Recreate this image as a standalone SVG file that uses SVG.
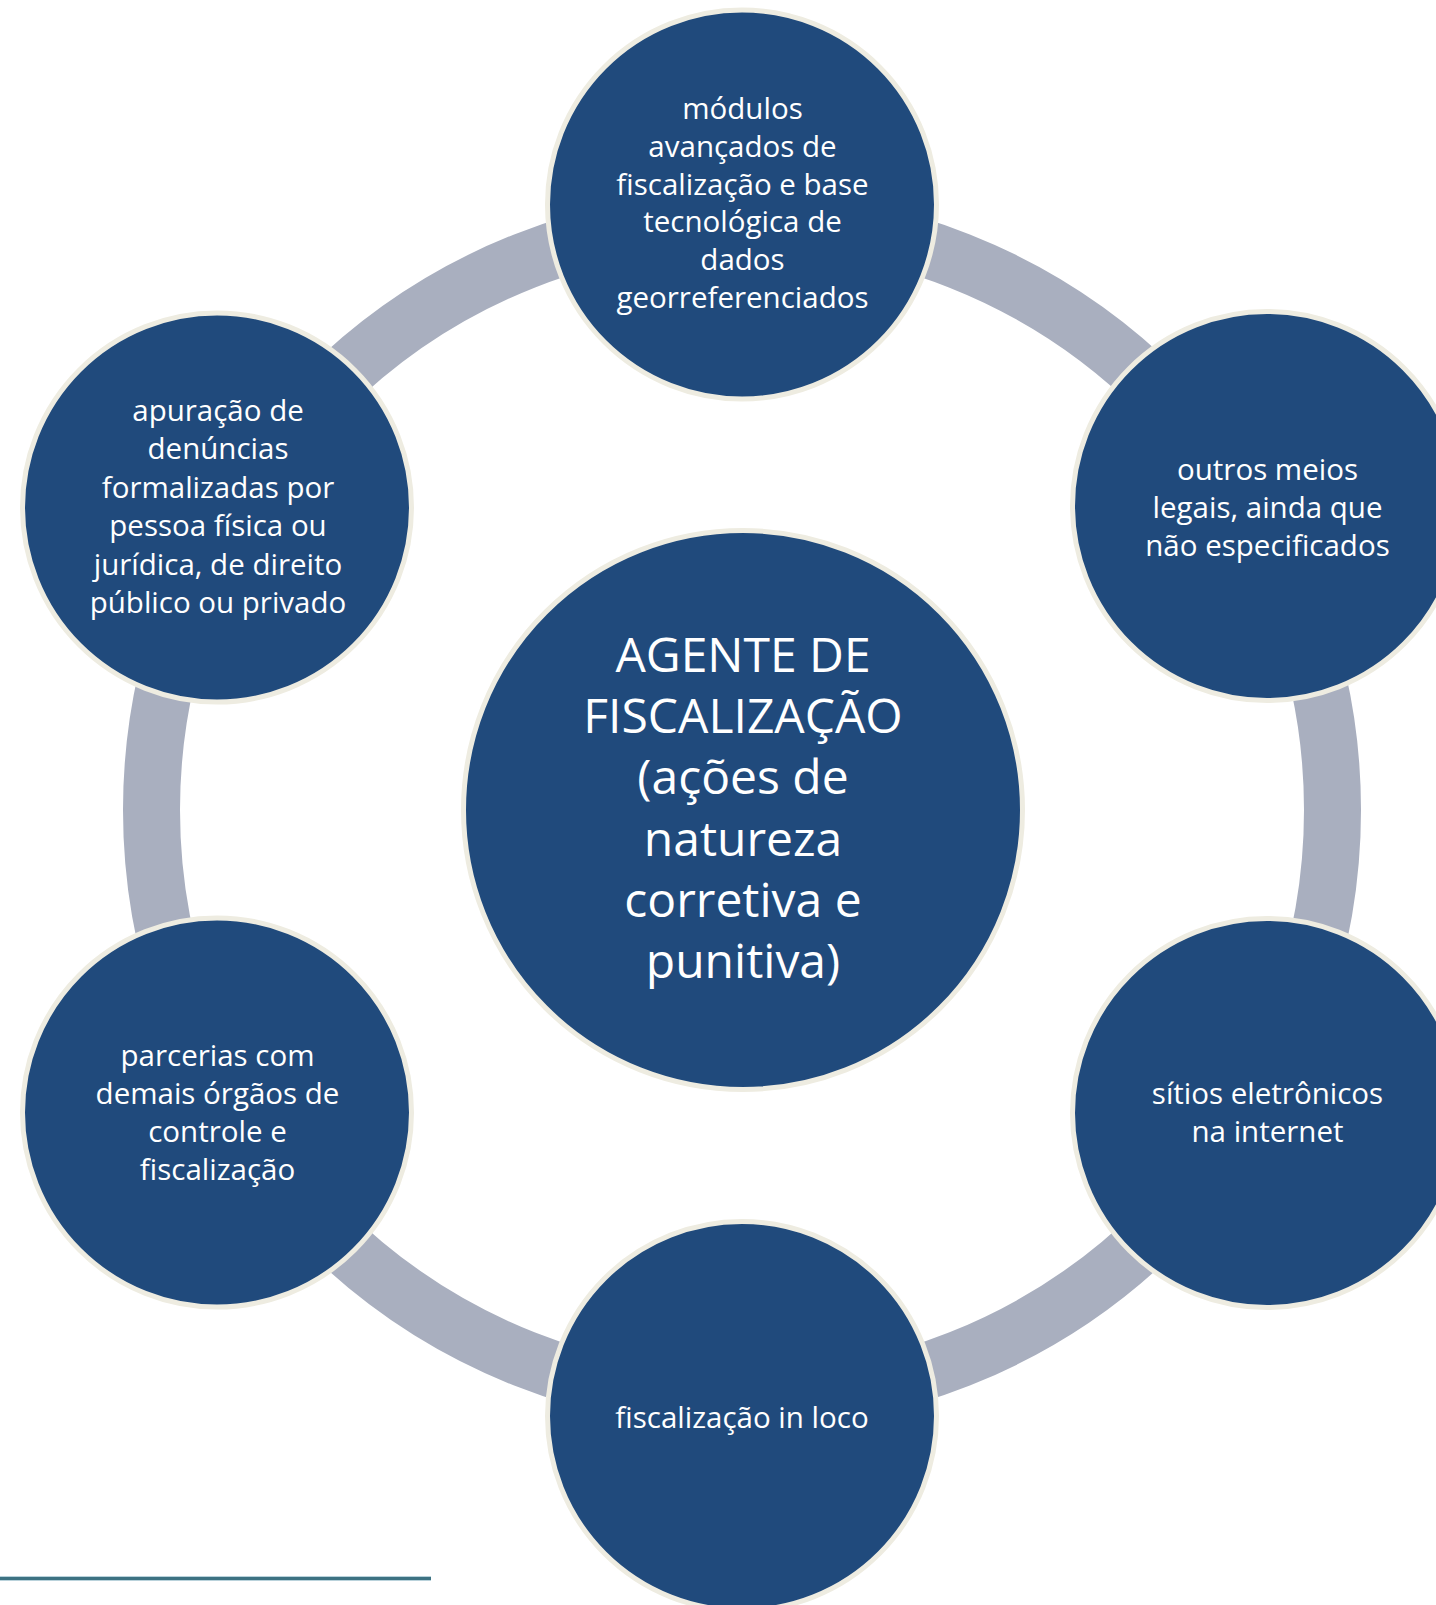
<svg xmlns="http://www.w3.org/2000/svg" width="1436" height="1605" viewBox="0 0 1436 1605">
<style>
.node{fill:#204A7C;stroke:#EEECE1;stroke-width:5}
.ring{fill:none;stroke:#A9AFBF;stroke-width:57}
.t{font-family:"Open Sans","Liberation Sans",sans-serif;fill:#FFFFFF;text-anchor:middle;font-size:29.5px}
.tc{font-family:"Open Sans","Liberation Sans",sans-serif;fill:#FFFFFF;text-anchor:middle;font-size:48px}
</style>
<rect width="1436" height="1605" fill="#FFFFFF"/>
<g id="connectors">
<circle class="ring" cx="742" cy="810" r="590.5"/>
</g>
<g id="center">
<circle class="node" cx="743" cy="810" r="279.5"/>
<text class="tc" x="743" y="672">AGENTE DE</text>
<text class="tc" x="743" y="733">FISCALIZAÇÃO</text>
<text class="tc" x="743" y="794">(ações de</text>
<text class="tc" x="743" y="855.5">natureza</text>
<text class="tc" x="743" y="917">corretiva e</text>
<text class="tc" x="743" y="978">punitiva)</text>
</g>
<g id="node-top">
<circle class="node" cx="742" cy="204.5" r="194.5"/>
<text class="t" x="742.5" y="118.5">módulos</text>
<text class="t" x="742.5" y="156.5">avançados de</text>
<text class="t" x="742.5" y="194.5">fiscalização e base</text>
<text class="t" x="742.5" y="232">tecnológica de</text>
<text class="t" x="742.5" y="270">dados</text>
<text class="t" x="742.5" y="307.5">georreferenciados</text>
</g>
<g id="node-upper-right">
<circle class="node" cx="1267" cy="506" r="194.5"/>
<text class="t" x="1267.5" y="480">outros meios</text>
<text class="t" x="1267.5" y="518">legais, ainda que</text>
<text class="t" x="1267.5" y="556">não especificados</text>
</g>
<g id="node-lower-right">
<circle class="node" cx="1267" cy="1113" r="194.5"/>
<text class="t" x="1267.5" y="1104">sítios eletrônicos</text>
<text class="t" x="1267.5" y="1142">na internet</text>
</g>
<g id="node-bottom">
<circle class="node" cx="742" cy="1416" r="194.5"/>
<text class="t" x="742" y="1427.5">fiscalização in loco</text>
</g>
<g id="node-lower-left">
<circle class="node" cx="217" cy="1112.5" r="194.5"/>
<text class="t" x="217.5" y="1066">parcerias com</text>
<text class="t" x="217.5" y="1104">demais órgãos de</text>
<text class="t" x="217.5" y="1142">controle e</text>
<text class="t" x="217.5" y="1180">fiscalização</text>
</g>
<g id="node-upper-left">
<circle class="node" cx="217" cy="507.5" r="194.5"/>
<text class="t" x="218" y="420.5">apuração de</text>
<text class="t" x="218" y="459">denúncias</text>
<text class="t" x="218" y="497.5">formalizadas por</text>
<text class="t" x="218" y="536">pessoa física ou</text>
<text class="t" x="218" y="574.5">jurídica, de direito</text>
<text class="t" x="218" y="613">público ou privado</text>
</g>
<g id="footer-line">
<line x1="0" y1="1578.5" x2="431" y2="1578.5" stroke="#B9D2DB" stroke-width="5"/>
<line x1="0" y1="1578.5" x2="431" y2="1578.5" stroke="#3D7282" stroke-width="3"/>
</g>
</svg>
